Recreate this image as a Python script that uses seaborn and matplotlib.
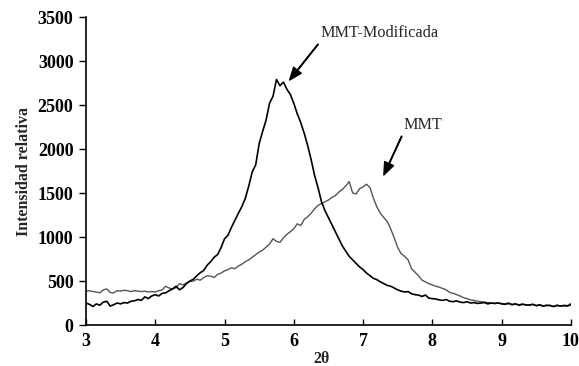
import numpy as np
import pandas as pd
import seaborn as sns
import matplotlib
matplotlib.use('Agg')
import matplotlib.pyplot as plt

# == Data (step 0.05 deg, 3 -> 10) == #

two_theta = np.linspace(3, 10, 141)

mmt_mod = [
    250, 235, 210, 240, 225, 260, 270, 215, 230, 250,
    240, 255, 250, 270, 275, 290, 280, 320, 300, 330,
    345, 330, 360, 365, 390, 410, 440, 400, 425, 470,
    500, 520, 560, 595, 620, 680, 720, 770, 800, 880,
    980, 1020, 1110, 1190, 1270, 1345, 1440, 1580, 1740, 1820,
    2060, 2200, 2330, 2520, 2600, 2790, 2720, 2760, 2680, 2620,
    2520, 2400, 2300, 2180, 2040, 1880, 1700, 1560, 1400, 1300,
    1220, 1140, 1060, 980, 900, 840, 780, 740, 700, 660,
    630, 590, 560, 530, 515, 490, 470, 450, 440, 420,
    400, 385, 375, 380, 355, 345, 340, 325, 340, 305,
    300, 295, 285, 280, 290, 270, 265, 275, 260, 255,
    265, 250, 255, 245, 250, 255, 240, 250, 245, 250,
    240, 235, 245, 230, 240, 225, 235, 230, 225, 235,
    220, 230, 215, 225, 220, 210, 225, 215, 220, 215,
    230,
]

mmt = [
    385, 390, 380, 375, 365, 400, 410, 370, 365, 390,
    385, 395, 390, 380, 390, 385, 380, 385, 375, 380,
    375, 390, 400, 440, 420, 410, 425, 470, 455, 480,
    495, 500, 520, 510, 540, 560, 555, 540, 575, 590,
    615, 630, 650, 640, 670, 690, 720, 740, 770, 800,
    830, 850, 885, 920, 980, 950, 940, 990, 1030, 1060,
    1095, 1150, 1130, 1200, 1230, 1270, 1320, 1360, 1380, 1400,
    1420, 1450, 1470, 1510, 1540, 1580, 1630, 1500, 1490, 1550,
    1570, 1600, 1560, 1440, 1340, 1270, 1220, 1175, 1090, 990,
    880, 810, 780, 740, 640, 600, 560, 510, 490, 470,
    455, 440, 430, 415, 400, 370, 360, 345, 330, 310,
    300, 285, 280, 270, 265, 260, 255, 250, 245, 250,
    245, 240, 250, 235, 240, 230, 240, 225, 230, 235,
    220, 225, 215, 220, 225, 210, 220, 215, 225, 220,
    245,
]

df = pd.DataFrame({'2θ': two_theta, 'MMT-Modificada': mmt_mod, 'MMT': mmt})

# == Plot == #

sns.set_style('white')
plt.rcParams['font.family'] = ['Liberation Serif', 'DejaVu Serif']

fig = plt.figure(figsize=(5.79, 3.66), dpi=100)
ax = fig.add_axes([0.1485, 0.112, 0.8375, 0.8415])

sns.lineplot(data=df, x='2θ', y='MMT', color='#555555', linewidth=1.0, ax=ax)
sns.lineplot(data=df, x='2θ', y='MMT-Modificada', color='black', linewidth=1.2, ax=ax)

ax.set_xlim(3, 10)
ax.set_ylim(0, 3500)
ax.set_xticks(range(3, 11))
ax.set_yticks(range(0, 3501, 500))
ax.set_ylabel('Intensidad relativa', fontsize=11.5, fontweight='bold', labelpad=4)
ax.set_xlabel('')
fig.text(0.556, -0.004, '2θ', ha='center', va='bottom', fontsize=11.5, fontweight='bold')

for lab in ax.get_xticklabels() + ax.get_yticklabels():
    lab.set_fontweight('bold')
    lab.set_fontsize(13)

ax.tick_params(axis='x', direction='in', length=4, width=1, colors='black', pad=6)
ax.tick_params(axis='y', direction='out', length=5, width=1, colors='black', pad=4)
ax.tick_params(left=True, bottom=True)

sns.despine(ax=ax)
for s in ['left', 'bottom']:
    ax.spines[s].set_color('black')
    ax.spines[s].set_linewidth(1.2)

arrow = dict(facecolor='black', edgecolor='black', width=0.4, headwidth=7, headlength=9, shrink=0)
ax.annotate('MMT-Modificada', xy=(5.94, 2784), xytext=(7.24, 3318),
            ha='center', va='center', fontsize=11.7, arrowprops=arrow)
ax.annotate('MMT', xy=(7.3, 1705), xytext=(7.86, 2273),
            ha='center', va='center', fontsize=11.7, arrowprops=arrow)

fig.savefig('out.png', dpi=100)
